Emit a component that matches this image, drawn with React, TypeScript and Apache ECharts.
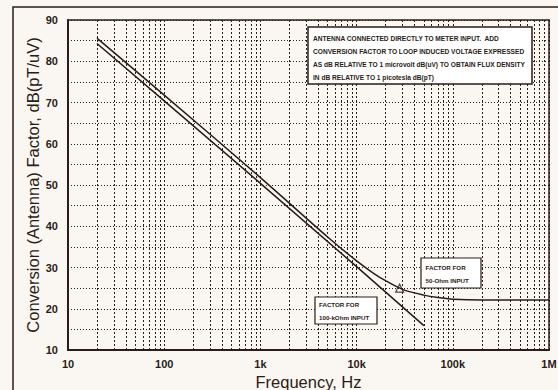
import React, { useEffect, useRef } from "react";
import * as echarts from "echarts";

// Frequencies (Hz) and conversion factor (dB)
const freq50: number[] = [20, 100, 1000, 5000, 10000, 15000, 20000, 30000, 50000, 70000, 100000, 200000, 1000000];
const factor50: number[] = [85.6, 71.8, 51.8, 37.4, 31.6, 28.6, 26.8, 24.7, 23.3, 22.7, 22.3, 22.1, 22.1];

const freq100k: number[] = [20, 100, 1000, 10000, 50000];
const factor100k: number[] = [84.3, 70.4, 50.4, 30.2, 15.9];

const markerPoint: [number, number] = [28000, 25.0];

const xTickLabels: Record<string, string> = {
  "10": "10",
  "100": "100",
  "1000": "1k",
  "10000": "10k",
  "100000": "100k",
  "1000000": "1M",
};

const noteLines: string[] = [
  "ANTENNA CONNECTED DIRECTLY TO METER INPUT.  ADD",
  "CONVERSION FACTOR TO LOOP INDUCED VOLTAGE EXPRESSED",
  "AS dB RELATIVE TO 1 microvolt dB(uV) TO OBTAIN FLUX DENSITY",
  "IN dB RELATIVE TO 1 picotesla dB(pT)",
];

const decades = [10, 100, 1000, 10000, 100000];
const minorMultipliers = [2, 3, 4, 5, 6, 7, 8, 9];

const INK = "#2a1c16";
const PAPER = "#faf7f3";

export default function App() {
  const ref = useRef<HTMLDivElement>(null);
  useEffect(() => {
    if (!ref.current) return;
    const chart = echarts.init(ref.current, null, { renderer: "svg" });
    const minorLines: { xAxis: number }[] = [];
    decades.forEach((d) => minorMultipliers.forEach((m) => minorLines.push({ xAxis: d * m })));
    const font = "'Liberation Sans', Arial, sans-serif";
    const dotted = { color: INK, width: 1, type: [1, 2] as number[] };
    const mk = (d: number[], v: number[]) => d.map((f, i) => [f, v[i]]);
    const boxText = (t: string, x: number, y: number, size: number) => ({
      type: "text",
      x,
      y,
      z: 101,
      style: { text: t, fontFamily: font, fontSize: size, fontWeight: "bold", fill: INK, verticalAlign: "middle" },
    });

    chart.setOption({
      animation: false,
      backgroundColor: PAPER,
      grid: {
        left: 68,
        top: 20,
        right: 9,
        bottom: 40,
        show: true,
        borderColor: INK,
        borderWidth: 1.5,
        containLabel: false,
        outerBoundsMode: "none",
      },
      xAxis: {
        type: "log",
        logBase: 10,
        min: 10,
        max: 1000000,
        name: "Frequency, Hz",
        nameLocation: "middle",
        nameGap: 23,
        nameMoveOverlap: false,
        nameTextStyle: { fontFamily: font, fontSize: 16.5, color: INK, verticalAlign: "top" },
        axisLine: { show: true, lineStyle: { color: INK, width: 2 } },
        axisTick: { show: false },
        axisLabel: {
          fontFamily: font,
          fontSize: 11,
          fontWeight: "bold",
          color: INK,
          margin: 8,
          formatter: (v: number) => xTickLabels[String(Math.round(v))] ?? "",
        },
        splitLine: { show: true, lineStyle: { color: INK, width: 1, type: [2, 2] } },
      },
      yAxis: {
        type: "value",
        min: 10,
        max: 90,
        interval: 10,
        name: "Conversion (Antenna) Factor, dB(pT/uV)",
        nameLocation: "middle",
        nameGap: 27,
        nameMoveOverlap: false,
        nameTextStyle: { fontFamily: font, fontSize: 16.5, color: INK },
        axisLine: { show: true, lineStyle: { color: INK, width: 2 } },
        axisTick: { show: false },
        axisLabel: {
          fontFamily: font,
          fontSize: 11,
          fontWeight: "bold",
          color: INK,
          margin: 10,
        },
        splitLine: { show: true, lineStyle: dotted },
        minorTick: { show: false, splitNumber: 2 },
        minorSplitLine: { show: true, lineStyle: dotted },
      },
      series: [
        {
          name: "100-kOhm",
          type: "line",
          data: mk(freq100k, factor100k),
          showSymbol: false,
          smooth: false,
          lineStyle: { color: INK, width: 1.5 },
          z: 3,
          markLine: {
            silent: true,
            symbol: "none",
            label: { show: false },
            lineStyle: { color: INK, width: 1, type: [2, 2] },
            data: minorLines,
            z: 1,
          },
        },
        {
          name: "50-Ohm",
          type: "line",
          data: mk(freq50, factor50),
          showSymbol: false,
          smooth: 0.3,
          lineStyle: { color: INK, width: 1.5 },
          z: 3,
        },
        {
          name: "marker",
          type: "scatter",
          data: [markerPoint],
          symbol: "triangle",
          symbolSize: 8,
          itemStyle: { color: "rgba(0,0,0,0)", borderColor: INK, borderWidth: 1.2 },
          z: 4,
        },
      ],
      graphic: [
        {
          type: "rect",
          shape: { x: 13, y: 7, width: 700, height: 500 },
          style: { fill: null, stroke: INK, lineWidth: 1.5 },
          silent: true,
          z: 0,
        },
        {
          type: "rect",
          z: 100,
          shape: { x: 308, y: 27, width: 224, height: 57 },
          style: { fill: "#ffffff", stroke: INK, lineWidth: 1.5 },
        },
        ...noteLines.map((t, i) => boxText(t, 313, 38 + i * 13, 6.6)),
        {
          type: "rect",
          z: 100,
          shape: { x: 421, y: 258, width: 60, height: 30 },
          style: { fill: "#ffffff", stroke: INK, lineWidth: 1.2 },
        },
        boxText("FACTOR FOR", 425.5, 267, 6.2),
        boxText("50-Ohm INPUT", 425.5, 280, 6.2),
        {
          type: "rect",
          z: 100,
          shape: { x: 315, y: 297, width: 62, height: 27 },
          style: { fill: "#ffffff", stroke: INK, lineWidth: 1.2 },
        },
        boxText("FACTOR FOR", 319, 304, 6.2),
        boxText("100-kOhm INPUT", 319, 317, 6.2),
      ],
    });
    return () => chart.dispose();
  }, []);
  return (
    <div
      ref={ref}
      style={{ position: "fixed", left: 0, top: 0, width: 558, height: 390, background: PAPER }}
    />
  );
}
